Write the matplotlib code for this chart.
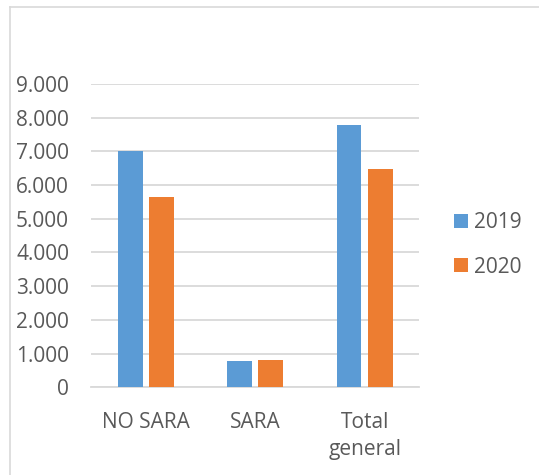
import matplotlib
matplotlib.use("Agg")
import matplotlib.pyplot as plt
from matplotlib.ticker import FuncFormatter, MultipleLocator
from matplotlib.lines import Line2D
import numpy as np

categories = ["NO SARA", "SARA", "Total\ngeneral"]
series_names = ["2019", "2020"]
values_2019 = [7000, 780, 7790]
values_2020 = [5650, 800, 6470]
colors = ["#5B9BD5", "#ED7D31"]

plt.rcParams['font.family'] = ['Open Sans', 'DejaVu Sans']
text_color = "#595959"
fs = 15

fig = plt.figure(figsize=(5.39, 4.75), dpi=100)
ax = fig.add_axes([0.1694, 0.1846, 0.6086, 0.6386])

x = np.arange(len(categories))
w = 0.226
off = 0.142
ax.bar(x - off, values_2019, width=w, color=colors[0], label=series_names[0], zorder=3)
ax.bar(x + off, values_2020, width=w, color=colors[1], label=series_names[1], zorder=3)

ax.set_xlim(-0.5, 2.5)
ax.set_ylim(0, 9000)
ax.yaxis.set_major_locator(MultipleLocator(1000))
ax.yaxis.set_major_formatter(FuncFormatter(lambda v, p: f"{int(v):,}".replace(",", ".")))
ax.grid(axis='y', color='#d9d9d9', linewidth=1.3, zorder=0)
ax.set_axisbelow(True)
for s in ['top', 'right', 'left']:
    ax.spines[s].set_visible(False)
ax.spines['bottom'].set_color('#d9d9d9')
ax.spines['bottom'].set_linewidth(1.3)

ax.set_xticks(x)
ax.set_xticklabels(categories, linespacing=1.33)
ax.tick_params(axis='both', length=0, labelsize=fs, colors=text_color)
ax.tick_params(axis='y', pad=16)
ax.tick_params(axis='x', pad=18)

leg = ax.legend(loc='center left', bbox_to_anchor=(454/539, 1 - 245/475),
                bbox_transform=fig.transFigure, frameon=False, borderpad=0,
                borderaxespad=0,
                fontsize=fs, handlelength=0.65, handleheight=0.65,
                handletextpad=0.3, labelspacing=1.12)
for t in leg.get_texts():
    t.set_color(text_color)

# chart border (only top and left visible in crop)
fig.add_artist(Line2D([10/539, 10/539], [0, 1 - 7/475], transform=fig.transFigure,
                      color='#d9d9d9', linewidth=1.2))
fig.add_artist(Line2D([10/539, 1], [1 - 7/475, 1 - 7/475], transform=fig.transFigure,
                      color='#d9d9d9', linewidth=1.2))

fig.savefig("out.png", dpi=100, facecolor='white')
